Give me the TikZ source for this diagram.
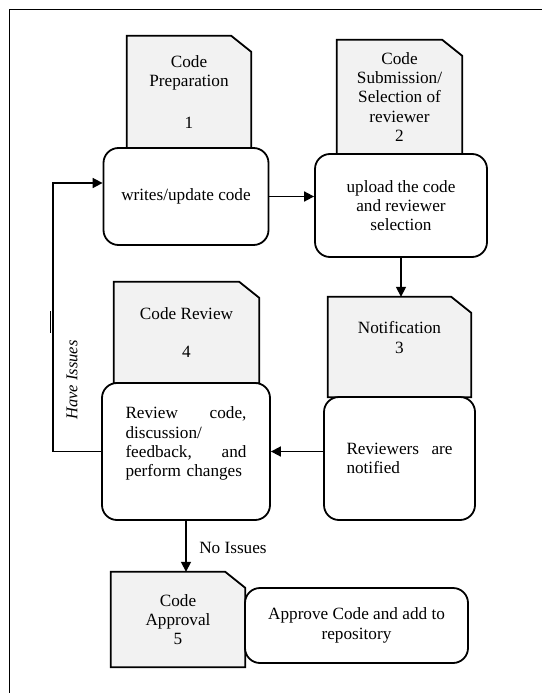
\documentclass[tikz,border=0pt]{standalone}
\usepackage{fontspec}
\setmainfont{Liberation Serif}
\usetikzlibrary{arrows.meta,backgrounds,calc}

\definecolor{docgray}{HTML}{F2F2F2}

\tikzset{
  docnode/.style={inner sep=0pt, align=center},
  stepbox/.style={draw, line width=1.8pt, rounded corners=15pt, inner sep=0pt, align=center},
  flow/.style={line width=1.7pt, -{Triangle[length=10pt,width=10pt]}},
  doceline/.style={fill=docgray, draw, line width=1.8pt},
}

% dog-eared document outline behind a node
\newcommand{\dogear}[1]{%
  \filldraw[doceline] (#1.south west) |- ($(#1.north east)+(-20,0)$)
    -- ($(#1.north east)+(0,16)$) |- cycle;}

\begin{document}
\begin{tikzpicture}[x=1pt, y=-1pt, font=\fontsize{17.2}{19.3}\selectfont]
\useasboundingbox (0,0) rectangle (541,693);

% Outer frame
\draw[line width=0.8pt] (9,693) -- (9,9) -- (545,9);

% Document headers
\node[docnode, minimum width=124, minimum height=112] (doc1) at (189,92) {Code\\Preparation\\[22pt]1};
\node[docnode, minimum width=125, minimum height=114] (doc2) at (399.5,97) {Code\\Submission/\\Selection of\\reviewer\\2};
\node[docnode, minimum width=143, minimum height=100] (doc3) at (399.5,347) {Notification\\3\\~};
\node[docnode, minimum width=145, minimum height=101] (doc4) at (186.5,332.5) {Code Review\\[19.3pt]4};
\node[docnode, minimum width=134, minimum height=95] (doc5) at (178,619.5) {Code\\Approval\\5};

\begin{scope}[on background layer]
\dogear{doc1}
\dogear{doc2}
\dogear{doc3}
\dogear{doc4}
\dogear{doc5}
\end{scope}

% Step boxes
\node[stepbox, fill=white, minimum width=165, minimum height=97] (box1) at (186,196.5) {writes/update code};
\node[stepbox, fill=white, minimum width=172, minimum height=103] (box2) at (401,205.5) {upload the code\\and reviewer\\selection};
\node[stepbox, fill=white, minimum width=151, minimum height=123, text width=106, align=left] (box3) at (399.5,458.5)
  {Reviewers\hfill are\\notified};
\node[stepbox, fill=white, minimum width=168, minimum height=137, text width=121, align=left] (box4) at (186,451.5)
  {Review\hfill code,\\discussion/\\feedback,\hfill and\\perform changes\\~};
\node[stepbox, fill=white, minimum width=223, minimum height=75] (box5) at (356.5,625.5) {Approve Code and add to\\repository};

% Connectors
\coordinate (loop) at (53,183);
\draw[flow] (box1.east) -- (box1.east -| box2.west);
\draw[flow] (box2.south) -- (box2.south |- doc3.north);
\draw[flow] (box3.west |- box4.east) -- (box4.east);
\draw[flow] (box4.south) -- (box4.south |- doc5.north);
\draw[flow] (box4.west) -| (loop) -- (loop -| box1.west);

% Labels
\node[rotate=90, font=\fontsize{16.5}{19.3}\selectfont\itshape] (have) at (72,380) {Have Issues};
\node (noiss) at (233,548) {No Issues};
\draw[line width=1pt] (50,311) -- (50,333);

\end{tikzpicture}
\end{document}
